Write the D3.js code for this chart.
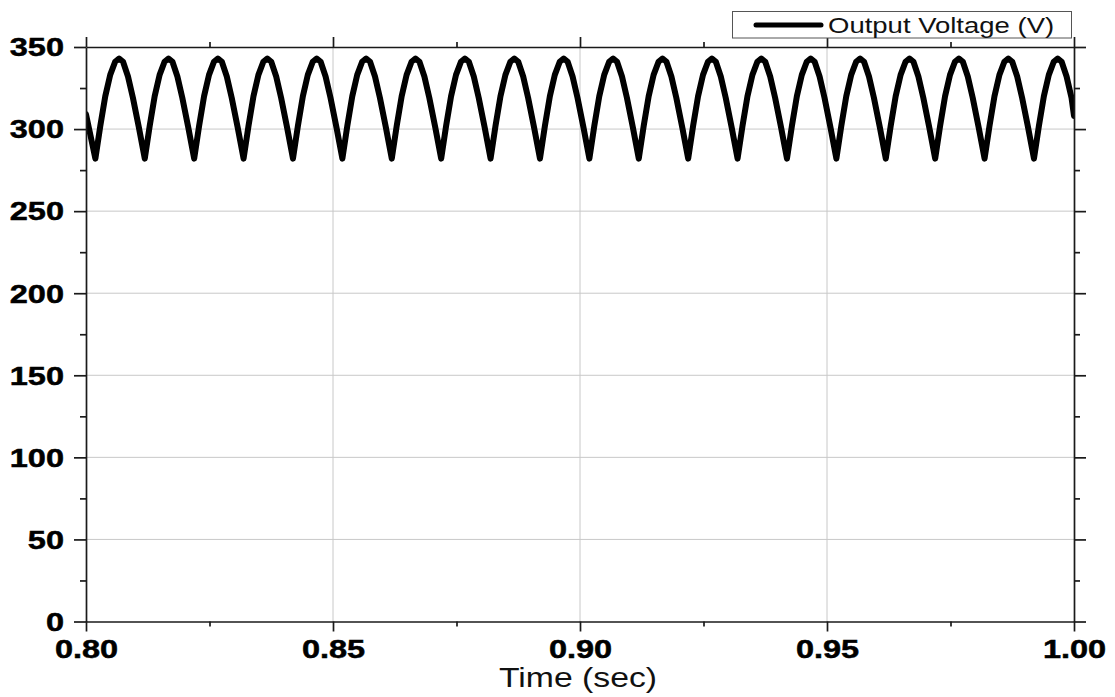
<!DOCTYPE html>
<html>
<head>
<meta charset="utf-8">
<script src="https://cdn.jsdelivr.net/npm/d3@7"></script>
<style>
  html, body { margin: 0; padding: 0; background: #ffffff; }
  svg { display: block; font-family: "Liberation Sans", Arial, sans-serif; }
</style>
</head>
<body>
<svg id="chart" width="1115" height="697"></svg>
<script>
// ---- data ----
const xMajorTicks = [0.80, 0.85, 0.90, 0.95, 1.00];
const xMinorTicks = [0.825, 0.875, 0.925, 0.975];
const yMajorTicks = [0, 50, 100, 150, 200, 250, 300, 350];
const yMinorTicks = [25, 75, 125, 175, 225, 275, 325];
const seriesName = "Output Voltage (V)";
const xTitle = "Time (sec)";

const timeSec = [
  0.8000,
  0.8019,0.8029,0.8039,0.8049,0.8059,0.8067,0.8075,0.8085,0.8095,0.8107,
  0.8119,0.8129,0.8139,0.8149,0.8159,0.8167,0.8175,0.8185,0.8195,0.8207,
  0.8219,0.8229,0.8239,0.8249,0.8259,0.8267,0.8275,0.8285,0.8295,0.8307,
  0.8319,0.8329,0.8339,0.8349,0.8359,0.8367,0.8375,0.8385,0.8395,0.8407,
  0.8419,0.8429,0.8439,0.8449,0.8459,0.8467,0.8475,0.8485,0.8495,0.8507,
  0.8519,0.8529,0.8539,0.8549,0.8559,0.8567,0.8575,0.8585,0.8595,0.8607,
  0.8619,0.8629,0.8639,0.8649,0.8659,0.8667,0.8675,0.8685,0.8695,0.8707,
  0.8719,0.8729,0.8739,0.8749,0.8759,0.8767,0.8775,0.8785,0.8795,0.8807,
  0.8819,0.8829,0.8839,0.8849,0.8859,0.8867,0.8875,0.8885,0.8895,0.8907,
  0.8919,0.8929,0.8939,0.8949,0.8959,0.8967,0.8975,0.8985,0.8995,0.9007,
  0.9019,0.9029,0.9039,0.9049,0.9059,0.9067,0.9075,0.9085,0.9095,0.9107,
  0.9119,0.9129,0.9139,0.9149,0.9159,0.9167,0.9175,0.9185,0.9195,0.9207,
  0.9219,0.9229,0.9239,0.9249,0.9259,0.9267,0.9275,0.9285,0.9295,0.9307,
  0.9319,0.9329,0.9339,0.9349,0.9359,0.9367,0.9375,0.9385,0.9395,0.9407,
  0.9419,0.9429,0.9439,0.9449,0.9459,0.9467,0.9475,0.9485,0.9495,0.9507,
  0.9519,0.9529,0.9539,0.9549,0.9559,0.9567,0.9575,0.9585,0.9595,0.9607,
  0.9619,0.9629,0.9639,0.9649,0.9659,0.9667,0.9675,0.9685,0.9695,0.9707,
  0.9719,0.9729,0.9739,0.9749,0.9759,0.9767,0.9775,0.9785,0.9795,0.9807,
  0.9819,0.9829,0.9839,0.9849,0.9859,0.9867,0.9875,0.9885,0.9895,0.9907,
  0.9919,0.9929,0.9939,0.9949,0.9959,0.9967,0.9975,0.9985,0.9995,
  1.0000
];

const voltageV = [
  309,
  282,302,320,333,341,343,341,332,319,301,
  282,302,320,333,341,343,341,332,319,301,
  282,302,320,333,341,343,341,332,319,301,
  282,302,320,333,341,343,341,332,319,301,
  282,302,320,333,341,343,341,332,319,301,
  282,302,320,333,341,343,341,332,319,301,
  282,302,320,333,341,343,341,332,319,301,
  282,302,320,333,341,343,341,332,319,301,
  282,302,320,333,341,343,341,332,319,301,
  282,302,320,333,341,343,341,332,319,301,
  282,302,320,333,341,343,341,332,319,301,
  282,302,320,333,341,343,341,332,319,301,
  282,302,320,333,341,343,341,332,319,301,
  282,302,320,333,341,343,341,332,319,301,
  282,302,320,333,341,343,341,332,319,301,
  282,302,320,333,341,343,341,332,319,301,
  282,302,320,333,341,343,341,332,319,301,
  282,302,320,333,341,343,341,332,319,301,
  282,302,320,333,341,343,341,332,319,301,
  282,302,320,333,341,343,341,332,319,
  308
];

// ---- layout ----
const plot = { left: 86, right: 1074, top: 47, bottom: 621.5 };
const SX = 1.25; // horizontal stretch of text in the reference

const svg = d3.select("#chart");
const x = d3.scaleLinear().domain([0.80, 1.00]).range([plot.left, plot.right]);
const y = d3.scaleLinear().domain([0, 350]).range([plot.bottom, plot.top]);

// grid
const grid = svg.append("g").attr("stroke", "#c8c8c8").attr("stroke-width", 1);
grid.selectAll("line.gx").data(xMajorTicks.slice(1, -1)).join("line")
  .attr("x1", d => x(d)).attr("x2", d => x(d))
  .attr("y1", plot.top).attr("y2", plot.bottom);
grid.selectAll("line.gy").data(yMajorTicks.slice(1, -1)).join("line")
  .attr("x1", plot.left).attr("x2", plot.right)
  .attr("y1", d => y(d)).attr("y2", d => y(d));

// data line
svg.append("clipPath").attr("id", "clip").append("rect")
  .attr("x", plot.left).attr("y", plot.top - 10)
  .attr("width", plot.right - plot.left).attr("height", plot.bottom - plot.top + 10);

const pts = timeSec.map((t, i) => [t, voltageV[i]]);
const line = d3.line().x(d => x(d[0])).y(d => y(d[1])).curve(d3.curveLinear);
svg.append("path").datum(pts)
  .attr("clip-path", "url(#clip)")
  .attr("fill", "none").attr("stroke", "#000").attr("stroke-width", 6)
  .attr("stroke-linejoin", "round").attr("stroke-linecap", "round")
  .attr("d", line);

// axes
function styleAxis(g) {
  g.selectAll("path.domain").attr("stroke", "#1a1a1a").attr("stroke-width", 1.7);
  g.selectAll(".tick line").attr("stroke", "#1a1a1a").attr("stroke-width", 1.7);
}

// bottom
const gB = svg.append("g").attr("transform", `translate(0,${plot.bottom})`)
  .call(d3.axisBottom(x).tickValues(xMajorTicks).tickSize(10).tickSizeOuter(0).tickFormat(d3.format(".2f")));
styleAxis(gB);
gB.selectAll(".tick text")
  .attr("font-size", 26).attr("font-weight", "bold").attr("fill", "#000")
  .attr("stroke", "#000").attr("stroke-width", 0.5)
  .attr("y", 36.5).attr("dy", 0).attr("transform", `scale(${SX},1)`);
const gBm = svg.append("g").attr("transform", `translate(0,${plot.bottom})`)
  .call(d3.axisBottom(x).tickValues(xMinorTicks).tickSize(5).tickSizeOuter(0).tickFormat(""));
styleAxis(gBm); gBm.select("path.domain").remove();

// top
const gT = svg.append("g").attr("transform", `translate(0,${plot.top})`)
  .call(d3.axisTop(x).tickValues(xMajorTicks).tickSize(10).tickSizeOuter(0).tickFormat(""));
styleAxis(gT);
const gTm = svg.append("g").attr("transform", `translate(0,${plot.top})`)
  .call(d3.axisTop(x).tickValues(xMinorTicks).tickSize(5).tickSizeOuter(0).tickFormat(""));
styleAxis(gTm); gTm.select("path.domain").remove();

// left
const gL = svg.append("g").attr("transform", `translate(${plot.left},0)`)
  .call(d3.axisLeft(y).tickValues(yMajorTicks).tickSize(12).tickSizeOuter(0).tickFormat(d3.format("d")));
styleAxis(gL);
gL.selectAll(".tick text")
  .attr("font-size", 26).attr("font-weight", "bold").attr("fill", "#000")
  .attr("stroke", "#000").attr("stroke-width", 0.5)
  .attr("x", -22 / SX).attr("dy", "0.34em").attr("transform", `scale(${SX},1)`);
const gLm = svg.append("g").attr("transform", `translate(${plot.left},0)`)
  .call(d3.axisLeft(y).tickValues(yMinorTicks).tickSize(6).tickSizeOuter(0).tickFormat(""));
styleAxis(gLm); gLm.select("path.domain").remove();

// right
const gR = svg.append("g").attr("transform", `translate(${plot.right},0)`)
  .call(d3.axisRight(y).tickValues(yMajorTicks).tickSize(12).tickSizeOuter(0).tickFormat(""));
styleAxis(gR);
const gRm = svg.append("g").attr("transform", `translate(${plot.right},0)`)
  .call(d3.axisRight(y).tickValues(yMinorTicks).tickSize(6).tickSizeOuter(0).tickFormat(""));
styleAxis(gRm); gRm.select("path.domain").remove();

// x title
svg.append("text")
  .attr("transform", `translate(${(plot.left + plot.right) / 2 - 2},687) scale(${SX},1)`)
  .attr("text-anchor", "middle").attr("font-size", 27).attr("fill", "#111")
  .text(xTitle);

// legend
const lg = svg.append("g");
lg.append("rect").attr("x", 732.5).attr("y", 11.5).attr("width", 339).attr("height", 26.5)
  .attr("fill", "#fff").attr("stroke", "#555").attr("stroke-width", 1);
lg.append("line").attr("x1", 756).attr("x2", 821).attr("y1", 25).attr("y2", 25)
  .attr("stroke", "#000").attr("stroke-width", 5).attr("stroke-linecap", "round");
lg.append("text")
  .attr("transform", `translate(828,33) scale(${SX},1)`)
  .attr("font-size", 22).attr("fill", "#111")
  .text(seriesName);
</script>
</body>
</html>
